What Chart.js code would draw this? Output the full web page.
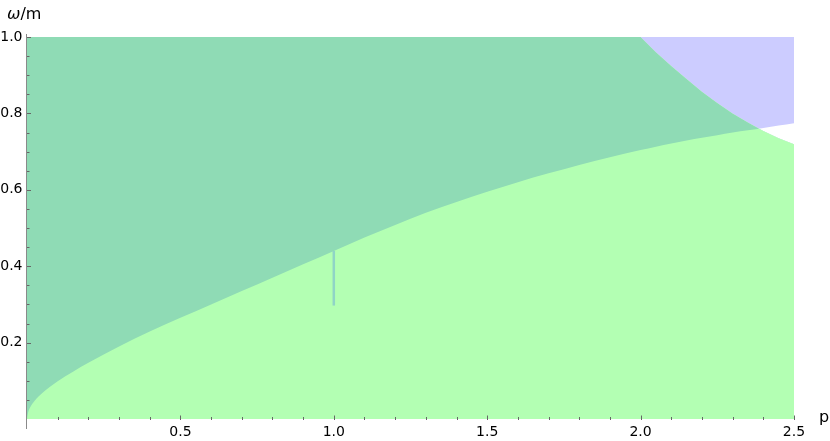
<!DOCTYPE html>
<html>
<head>
<meta charset="utf-8">
<script src="https://cdn.jsdelivr.net/npm/chart.js@4.4.1/dist/chart.umd.min.js"></script>
<style>
  html, body { margin:0; padding:0; background:#fff; }
  #wrap { position:relative; width:830px; height:441px; }
  #plot { position:absolute; left:0; top:0; }
  .axis-title { position:absolute; font-family:'DejaVu Sans', sans-serif; font-size:16px; line-height:1; color:#000; white-space:nowrap; }
</style>
</head>
<body>
<div id="wrap">
  <canvas id="plot" width="830" height="441"></canvas>
  <span class="axis-title" style="left:7px;top:6px"><i>ω</i>/m</span>
  <span class="axis-title" style="left:819px;top:409px">p</span>
</div>
<script>
/* region plot: omega/m against p, two overlapping regions */

// sample positions along p
const P_VALUES = [0, 0.003, 0.01, 0.025, 0.05, 0.1, 0.15, 0.2, 0.3, 0.4, 0.5, 0.6, 0.7, 0.8, 0.9,
  1.0, 1.1, 1.2, 1.3, 1.4, 1.5, 1.6, 1.7, 1.8, 1.9,
  2.0, 2.05, 2.1, 2.15, 2.2, 2.25, 2.3, 2.35, 2.4, 2.45, 2.5];

// lower boundary: above it lies the blue region
const LOWER_EDGE = [0, 0.015, 0.03, 0.048, 0.068, 0.099, 0.124, 0.147, 0.190, 0.229, 0.265, 0.300, 0.335, 0.370, 0.405,
  0.440, 0.475, 0.508, 0.540, 0.568, 0.595, 0.620, 0.643, 0.665, 0.685,
  0.704, 0.713, 0.721, 0.729, 0.736, 0.743, 0.750, 0.756, 0.762, 0.768, 0.774];

// upper boundary: below it lies the green region
const UPPER_EDGE = [1, 1, 1, 1, 1, 1, 1, 1, 1, 1, 1, 1, 1, 1, 1,
  1, 1, 1, 1, 1, 1, 1, 1, 1, 1,
  1.0, 0.960, 0.924, 0.890, 0.857, 0.827, 0.800, 0.776, 0.754, 0.735, 0.719];

// little vertical sliver at p = 1
const GLITCH_P = [1.0, 1.0];
const GLITCH_W = [0.297, 0.440];

const X_TICK_VALUES = [0.5, 1.0, 1.5, 2.0, 2.5];
const X_TICK_LABELS = ['0.5', '1.0', '1.5', '2.0', '2.5'];
const Y_TICK_VALUES = [0.2, 0.4, 0.6, 0.8, 1.0];
const Y_TICK_LABELS = ['0.2', '0.4', '0.6', '0.8', '1.0'];

const C_GREEN    = '#b3ffb3';
const C_OVERLAP  = '#8fdbb5';
const C_BLUE     = '#ccccff';
const C_GLITCH   = '#8fd4c6';
const CLEAR      = 'rgba(0,0,0,0)';

const pts = ys => P_VALUES.map((p, i) => ({ x: p, y: ys[i] }));
const labelFor = (vals, labels) => v => {
  const i = vals.findIndex(t => Math.abs(t - v) < 1e-6);
  return i < 0 ? '' : labels[i];
};
const isMajor = (vals, v) => vals.some(t => Math.abs(t - v) < 1e-6);

// mathematica-style axis: inward ticks, y axis running past the frame
const axisPlugin = {
  id: 'axisTicks',
  afterDatasetsDraw(chart) {
    const { ctx, chartArea: a, scales: { x, y } } = chart;
    ctx.save();
    ctx.strokeStyle = '#8a8a8a';
    ctx.lineWidth = 1;
    ctx.beginPath();
    ctx.moveTo(a.left - 0.5, a.top - 3);
    ctx.lineTo(a.left - 0.5, a.bottom + 10);
    ctx.stroke();

    ctx.strokeStyle = '#666';
    y.ticks.forEach(t => {
      if (t.value <= 0) return;
      const py = Math.round(y.getPixelForValue(t.value)) + 0.5;
      const len = isMajor(Y_TICK_VALUES, t.value) ? 4 : 2.5;
      ctx.beginPath();
      ctx.moveTo(a.left, py);
      ctx.lineTo(a.left + len, py);
      ctx.stroke();
    });
    x.ticks.forEach(t => {
      if (t.value <= 0) return;
      const px = Math.round(x.getPixelForValue(t.value)) + 0.5;
      const len = isMajor(X_TICK_VALUES, t.value) ? 4.5 : 3;
      ctx.beginPath();
      ctx.moveTo(px, a.bottom + 1);
      ctx.lineTo(px, a.bottom + 1 - len);
      ctx.stroke();
    });
    ctx.restore();
  }
};

const base = { borderColor: CLEAR, borderWidth: 0, pointRadius: 0, tension: 0 };
const smooth = { cubicInterpolationMode: 'monotone' };
const tickFont = { family: "'DejaVu Sans', sans-serif", size: 14 };

new Chart(document.getElementById('plot').getContext('2d'), {
  type: 'line',
  data: {
    datasets: [
      { ...base, data: GLITCH_P.map((p, i) => ({ x: p, y: GLITCH_W[i] })),
        borderColor: C_GLITCH, borderWidth: 2.5, fill: false },
      { ...base, ...smooth, data: pts(LOWER_EDGE), fill: { target: 2, above: CLEAR, below: C_OVERLAP } },
      { ...base, data: pts(UPPER_EDGE), fill: 'origin', backgroundColor: C_GREEN },
      { ...base, ...smooth, data: pts(LOWER_EDGE), fill: { target: { value: 1 }, above: C_BLUE, below: C_BLUE } },
    ]
  },
  options: {
    responsive: false,
    animation: false,
    events: [],
    layout: { padding: { left: 0, top: 37, right: 36, bottom: 0 } },
    plugins: { legend: { display: false }, tooltip: { enabled: false } },
    scales: {
      x: {
        type: 'linear', min: 0, max: 2.5,
        grid: { display: false, drawTicks: false }, border: { display: false },
        ticks: { stepSize: 0.1, autoSkip: false, maxRotation: 0, padding: 5,
          color: '#000', font: tickFont, callback: labelFor(X_TICK_VALUES, X_TICK_LABELS) },
        afterFit: s => { s.height = 22; }
      },
      y: {
        type: 'linear', min: 0, max: 1,
        grid: { display: false, drawTicks: false }, border: { display: false },
        ticks: { stepSize: 0.05, autoSkip: false, padding: 4.5,
          color: '#000', font: tickFont, callback: labelFor(Y_TICK_VALUES, Y_TICK_LABELS) },
        afterFit: s => { s.width = 27; }
      }
    }
  },
  plugins: [axisPlugin]
});
</script>
</body>
</html>
